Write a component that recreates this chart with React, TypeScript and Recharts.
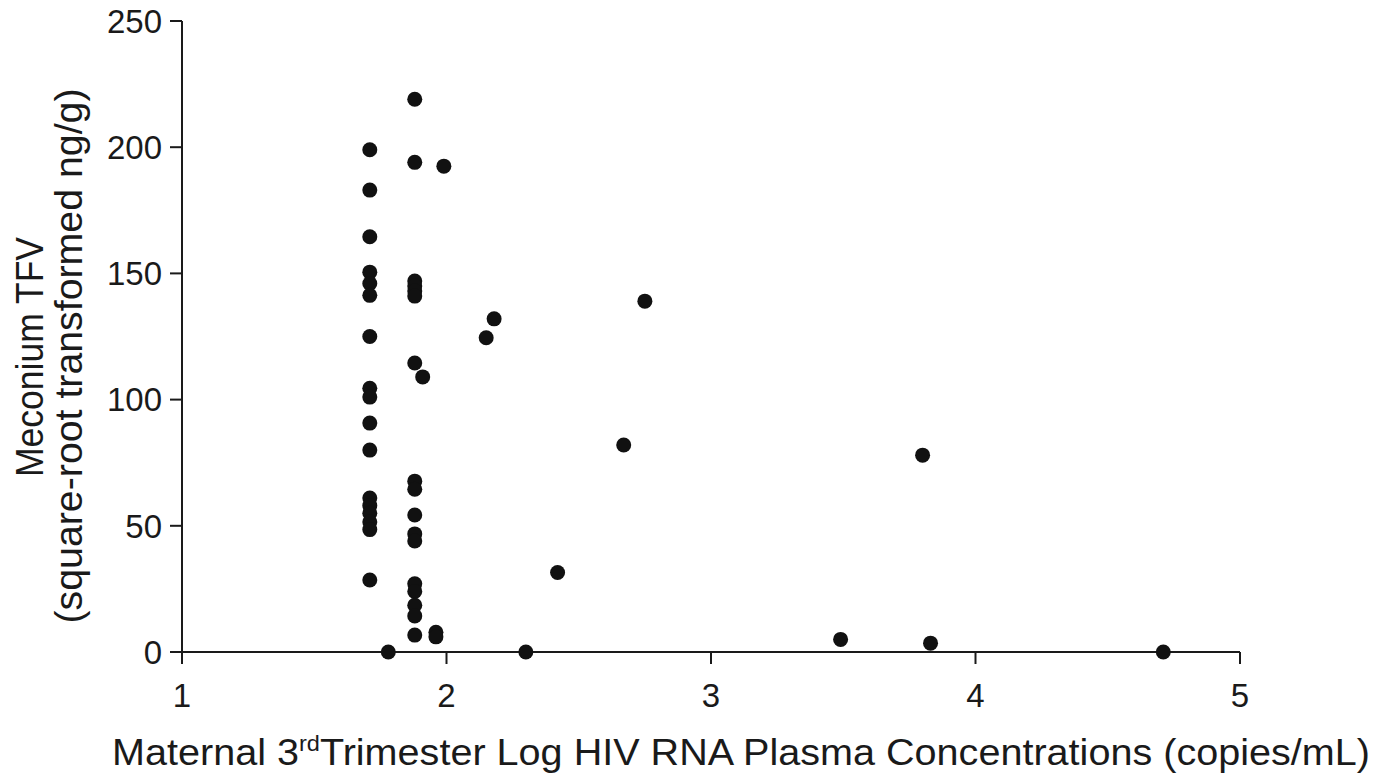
import React from "react"
import { ScatterChart, Scatter, XAxis, YAxis } from "recharts"

// maternal 3rd trimester log HIV RNA (x) and meconium TFV (y)
const logRna = [
  1.71, 1.71, 1.71, 1.71, 1.71, 1.71, 1.71, 1.71, 1.71, 1.71, 1.71, 1.71, 1.71, 1.71, 1.71, 1.71, 1.71,
  1.88, 1.88, 1.88, 1.88, 1.88, 1.88, 1.88, 1.88, 1.88, 1.88, 1.88, 1.88, 1.88, 1.88, 1.88, 1.88, 1.88,
  1.91, 1.96, 1.96, 1.78, 1.99, 2.15, 2.18, 2.3, 2.42, 2.67, 2.75, 3.49, 3.8, 3.83, 4.71,
]
const tfv = [
  199, 183, 164.5, 150.5, 146, 141.3, 125, 104.5, 101, 90.7, 80, 61, 58, 55, 51.5, 48.5, 28.5,
  219, 194, 147, 145, 143, 141, 114.5, 67.7, 64.5, 54.3, 46.8, 44, 27, 24, 18.5, 14.3, 6.7,
  109, 7.8, 6, 0, 192.5, 124.5, 132, 0, 31.5, 82, 139, 5, 78, 3.5, 0,
]
const xTicks = [1, 2, 3, 4, 5]
const yTicks = [0, 50, 100, 150, 200, 250]

const points = logRna.map((x, i) => ({ x, y: tfv[i] }))

const font = "'Liberation Sans', Arial, sans-serif"
const tickStyle = { fontSize: 33, fill: "#1a1a1a", fontFamily: font }

function YTitle() {
  return (
    <g fontFamily={font} fill="#1a1a1a" fontSize={38}>
      <text transform="translate(43,357) rotate(-90)" textAnchor="middle" textLength={240} lengthAdjust="spacingAndGlyphs">
        Meconium  TFV
      </text>
      <text transform="translate(82,356) rotate(-90)" textAnchor="middle" textLength={535} lengthAdjust="spacingAndGlyphs">
        (square-root transformed ng/g)
      </text>
    </g>
  )
}

function XTitle() {
  return (
    <text x={112} y={765} fontFamily={font} fill="#1a1a1a" fontSize={37} textLength={1258} lengthAdjust="spacingAndGlyphs">
      Maternal 3<tspan fontSize={22} dy={-14}>rd</tspan>
      <tspan dy={14}>Trimester Log HIV RNA Plasma Concentrations (copies/mL)</tspan>
    </text>
  )
}

export default function App() {
  return (
    <div style={{ position: "absolute", left: 0, top: 0, background: "#fff" }}>
      <ScatterChart width={1378} height={777} margin={{ top: 21, right: 138, bottom: 0, left: 0 }}>
        <XAxis
          type="number"
          dataKey="x"
          domain={[1, 5]}
          ticks={xTicks}
          height={125}
          tickSize={12}
          tickMargin={20}
          tick={tickStyle}
          axisLine={{ stroke: "#1a1a1a", strokeWidth: 2 }}
          tickLine={{ stroke: "#1a1a1a", strokeWidth: 2 }}
          label={{ content: () => <XTitle /> }}
        />
        <YAxis
          type="number"
          dataKey="y"
          domain={[0, 250]}
          ticks={yTicks}
          width={182}
          tickSize={12}
          tickMargin={8}
          tick={tickStyle}
          axisLine={{ stroke: "#1a1a1a", strokeWidth: 2 }}
          tickLine={{ stroke: "#1a1a1a", strokeWidth: 2 }}
          label={{ content: () => <YTitle /> }}
        />
        <Scatter
          data={points}
          fill="#111"
          isAnimationActive={false}
          shape={(p: any) => <circle cx={p.cx} cy={p.cy} r={7.5} fill="#111" />}
        />
      </ScatterChart>
    </div>
  )
}
